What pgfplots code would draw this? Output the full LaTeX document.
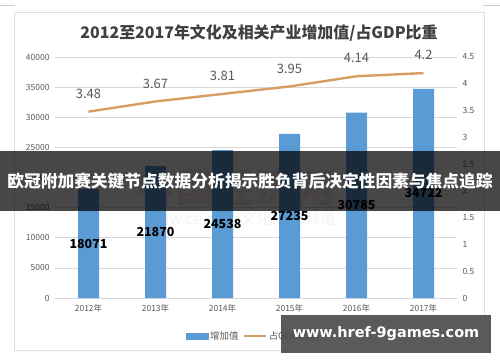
\documentclass[border=0pt]{standalone}
\usepackage{fontspec}
\setmainfont{Noto Sans CJK SC}
\newfontfamily\dejavub{DejaVu Sans}
\usepackage{pgfplots}
\pgfplotsset{compat=1.18}
\definecolor{barblue}{RGB}{91,155,213}
\definecolor{lineorange}{RGB}{214,158,98}
\definecolor{tickgray}{RGB}{89,89,89}
\definecolor{gridgray}{RGB}{217,217,217}
\begin{document}
\begin{tikzpicture}[x=1bp,y=1bp]
\path[use as bounding box] (0,0) rectangle (500,362);
\fill[white] (0,0) rectangle (500,362);
% frame
\draw[gray!25, line width=0.8bp] (14,12) rectangle (484,350);
\draw[gray!40, line width=0.8bp] (0,357) -- (15,357);
\draw[gray!40, line width=0.8bp] (483,357) -- (500,357);
% title
\node[font=\fontsize{16}{16}\selectfont\bfseries, text={rgb,255:red,64;green,64;blue,64}] at (259,329) {2012至2017年文化及相关产业增加值/占GDP比重};
% faint watermark
\node[font=\fontsize{40}{40}\selectfont\bfseries, text={rgb,255:red,200;green,80;blue,80}, opacity=0.10] at (235,175) {中国经济网};
\node[font=\fontsize{16}{16}\selectfont, text=gray, opacity=0.10] at (240,144) {www.ce.cn\quad 文化产业频道};
\begin{axis}[
  at={(55bp,64bp)}, anchor=south west, scale only axis,
  width=402bp, height=241bp,
  xmin=-0.5, xmax=5.5, ymin=0, ymax=40000,
  ytick={0,5000,...,40000},
  scaled y ticks=false,
  xtick={0,1,2,3,4,5},
  xticklabels={2012年,2013年,2014年,2015年,2016年,2017年},
  axis line style={draw=none},
  major tick length=0pt,
  ymajorgrids, grid style={gridgray, line width=0.7bp},
  /pgf/number format/1000 sep={},
  /pgf/number format/assume math mode=true,
  tick label style={font=\fontsize{8.5}{8.5}\selectfont, text=tickgray},
  yticklabel style={xshift=-2bp},
  xticklabel style={yshift=-3bp},
  clip=false,
]
\addplot[ybar, bar width=21bp, fill=barblue, draw=none] coordinates {
 (0,18071) (1,21870) (2,24538) (3,27235) (4,30785) (5,34722)};
\addplot[draw=none, mark=none, nodes near coords, point meta=explicit symbolic,
  every node near coord/.style={anchor=center, font=\fontsize{12.5}{12.5}\selectfont\bfseries, text=black}]
  coordinates {
 (0,9035.5)[18071] (1,10935)[21870] (2,12269)[24538] (3,13617.5)[27235] (4,15392.5)[30785] (5,17361)[34722]};
\end{axis}
\begin{axis}[
  at={(55bp,64bp)}, anchor=south west, scale only axis,
  width=402bp, height=241bp,
  xmin=-0.5, xmax=5.5, ymin=0, ymax=4.5,
  ytick={0,0.5,...,4.5},
  axis y line*=right, axis x line=none,
  axis line style={draw=none},
  major tick length=0pt,
  /pgf/number format/assume math mode=true,
  tick label style={font=\fontsize{8.5}{8.5}\selectfont, text=tickgray},
  yticklabel style={xshift=2bp},
  clip=false,
  legend style={at={(0.49,-0.158)}, anchor=center, draw=none, fill=none,
    font=\fontsize{9.5}{9.5}\selectfont, text=tickgray, legend columns=2,
    /tikz/every even column/.append style={column sep=2bp}},
]
\addlegendimage{legend image code/.code={\fill[barblue] (0bp,-3bp) rectangle (22bp,3bp);}}
\addlegendentry{增加值}
\addplot[lineorange, line width=2.4bp, mark=none,
  nodes near coords, point meta=explicit symbolic,
  every node near coord/.style={anchor=center, yshift=18bp, font=\fontsize{13}{13}\selectfont, text=tickgray},
  legend image code/.code={\draw[lineorange, line width=2.2bp] (0bp,0bp) -- (22bp,0bp);}]
  coordinates {(0,3.48)[3.48] (1,3.67)[3.67] (2,3.81)[3.81] (3,3.95)[3.95] (4,4.14)[4.14] (5,4.2)[4.2]};
\addlegendentry{占GDP比重}
\end{axis}
% banner
\fill[black, opacity=0.72] (0,151) rectangle (500,211);
\node[font=\fontsize{16.8}{16.8}\selectfont\bfseries, text=white] at (250,181) {欧冠附加赛关键节点数据分析揭示胜负背后决定性因素与焦点追踪};
% watermark box
\fill[black!70, opacity=0.92] (281,9) rectangle (491,47);
\node[font=\dejavub\bfseries\fontsize{14.5}{14.5}\selectfont, text=white] at (386,28) {www.href-9games.com};
\end{tikzpicture}
\end{document}
